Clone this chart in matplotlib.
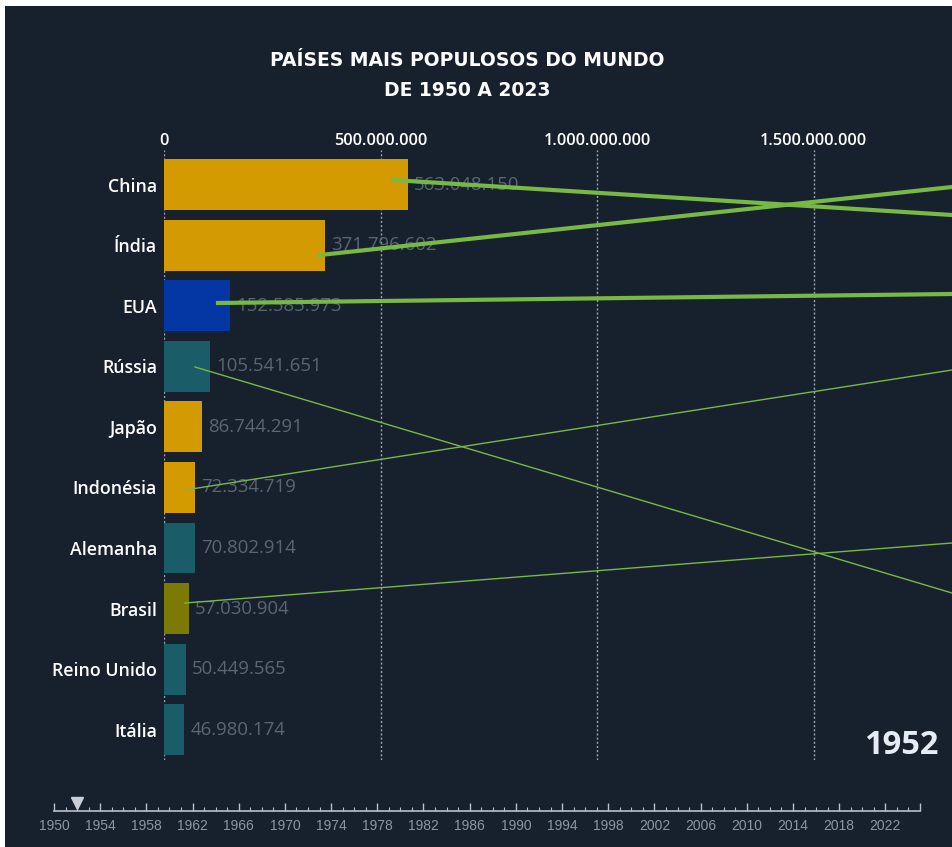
import matplotlib.pyplot as plt
from matplotlib.patches import Rectangle
from matplotlib.lines import Line2D
import matplotlib.ticker as mticker

# dados de 1952
paises = ["China", "Índia", "EUA", "Rússia", "Japão", "Indonésia",
          "Alemanha", "Brasil", "Reino Unido", "Itália"]
populacao = [563048150, 371796602, 152585973, 105541651, 86744291,
             72334719, 70802914, 57030904, 50449565, 46980174]
cores = ["#d39a02", "#d39a02", "#0437a4", "#1a5c67", "#d39a02",
         "#d39a02", "#1a5c67", "#7b7a05", "#1a5c67", "#1a5c67"]
ticks_x = [0, 500000000, 1000000000, 1500000000]
ano_atual = 1952
anos_linha = list(range(1950, 2026))
anos_rotulo = list(range(1950, 2023, 4))

fundo = "#17212e"
W, H = 952, 847

def fmt_br(v, pos=None):
    return f"{int(v):,}".replace(",", ".")

fig = plt.figure(figsize=(W / 100, H / 100), dpi=100, facecolor="white")
fig.add_artist(Rectangle((5 / W, 0), 1, 1 - 6 / H, transform=fig.transFigure,
                         facecolor=fundo, edgecolor="none", zorder=-10))

# grafico de barras principal
ax = fig.add_axes([164 / W, 1 - 760 / H, (W - 164) / W, 610 / H])
ax.set_facecolor(fundo)
ax.patch.set_alpha(0)
y = list(range(len(paises)))
ax.barh(y, populacao, height=0.84, color=cores, zorder=2)
ax.set_xlim(0, (W - 164) / 216.5 * 5e8)
ax.set_ylim(9.5, -0.57)
for s in ax.spines.values():
    s.set_visible(False)
ax.xaxis.tick_top()
ax.set_xticks(ticks_x)
ax.xaxis.set_major_formatter(mticker.FuncFormatter(fmt_br))
ax.tick_params(axis="x", length=0, pad=1, labelcolor="white", labelsize=11.8)
for t in ax.get_xticklabels():
    t.set_fontfamily("Open Sans")
    t.set_fontweight("semibold")
ax.set_yticks(y)
ax.set_yticklabels(paises)
ax.tick_params(axis="y", length=0, pad=5, labelcolor="white", labelsize=12.8)
for t in ax.get_yticklabels():
    t.set_fontfamily("Open Sans")
    t.set_fontweight("semibold")
for xv in ticks_x:
    ax.axvline(xv, color="#9aa4b0", linestyle=(0, (1.5, 1.5)), linewidth=1, zorder=1)

for yi, v in zip(y, populacao):
    ax.annotate(fmt_br(v), (v, yi), xytext=(4.5, 0), textcoords="offset points",
                va="center", ha="left", color="#5b6673", fontsize=13.4,
                family="Open Sans", zorder=3)

# titulo
fig.text(467 / W, 1 - 61 / H, "PAÍSES MAIS POPULOSOS DO MUNDO", ha="center",
         va="center", color="white", fontsize=13.5, fontweight="bold",
         family="DejaVu Sans")
fig.text(467 / W, 1 - 90 / H, "DE 1950 A 2023", ha="center", va="center",
         color="white", fontsize=13.5, fontweight="bold", family="DejaVu Sans")

# ano em destaque
fig.text(938 / W, 1 - 745 / H, str(ano_atual), ha="right", va="center",
         color="#e6ecf3", fontsize=23.5, fontweight="bold", family="Open Sans")

# tracos verdes sobre o grafico
tracos = [((393, 180), (W, 215), 3), ((320, 255), (W, 187), 3),
          ((218, 303), (W, 294), 3), ((195, 367), (W, 593), 1),
          ((185, 490), (W, 370), 1), ((185, 603), (W, 543), 1)]
for (x0, y0), (x1, y1), lw in tracos:
    fig.add_artist(Line2D([x0 / W, x1 / W], [1 - y0 / H, 1 - y1 / H],
                          transform=fig.transFigure, color="#78b845",
                          linewidth=lw, zorder=5))

# linha do tempo
tl = fig.add_axes([54 / W, 1 - 811 / H, 866 / W, 20 / H])
tl.patch.set_alpha(0)
tl.set_xlim(1950, 2025)
tl.set_ylim(0, 1)
for k in ["top", "left", "right"]:
    tl.spines[k].set_visible(False)
tl.spines["bottom"].set_color("#b8c0ca")
tl.spines["bottom"].set_linewidth(1.2)
tl.set_yticks([])
tl.set_xticks(anos_rotulo + [2025])
tl.set_xticklabels([str(a) for a in anos_rotulo] + [""])
tl.set_xticks(anos_linha, minor=True)
tl.tick_params(axis="x", which="major", direction="in", length=6, width=1,
               color="#b8c0ca", labelcolor="#8c97a3", labelsize=10, pad=6)
tl.tick_params(axis="x", which="minor", direction="in", length=3, width=0.8,
               color="#b8c0ca")
for t in tl.get_xticklabels():
    t.set_fontfamily("Liberation Sans")
tl.plot([ano_atual], [0.4], marker="v", markersize=8, color="#c9ced6",
        clip_on=False)

fig.savefig("out.png", dpi=100, facecolor=fig.get_facecolor())
